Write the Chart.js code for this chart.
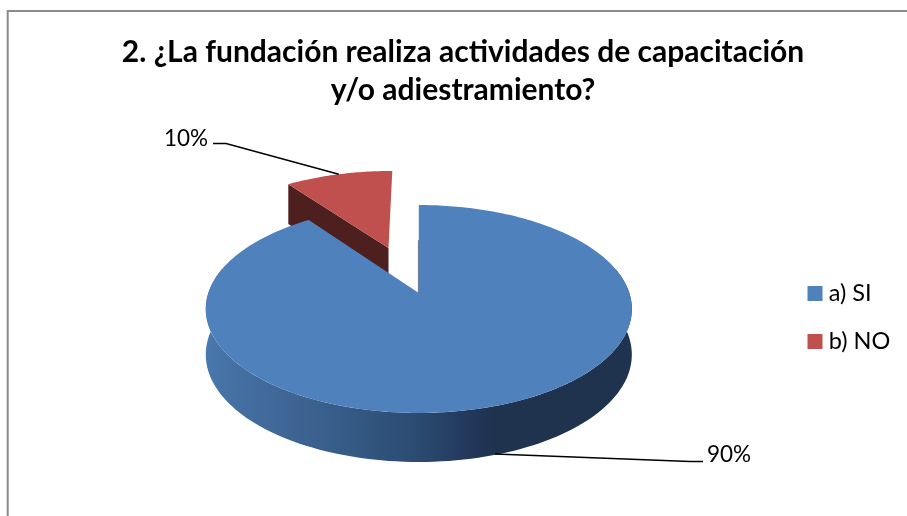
<!DOCTYPE html>
<html><head><meta charset="utf-8">
<style>html,body{margin:0;padding:0;background:#fff}canvas{display:block}</style>
<script src="https://cdn.jsdelivr.net/npm/chart.js@4"></script>
</head><body>
<canvas id="c" width="907" height="516"></canvas>
<script>
const categories = ['a) SI', 'b) NO'];
const values = [90, 10];
const colors = ['#4f81bd', '#c0504d'];
const titleLines = ['2. ¿La fundación realiza actividades de capacitación', 'y/o adiestramiento?'];
const explode = [0, 0.5];

// projection of the pie disc seen in perspective
const P = {cx: 418.8, cy: 293, R: 210.5, S: 101.5, p: 0.1538, dFront: 49, dBack: 41};
function proj(u, v, down) {
  const w = 1 + P.p * v;
  let y = P.cy - P.S * v / w;
  if (down) y += (P.dFront + P.dBack) / 2 - (P.dFront - P.dBack) / 2 * v;
  return [P.cx + P.R * u / w, y];
}
function offsetOf(arc, i) {
  const mid = (arc.startAngle + arc.endAngle) / 2;
  return [Math.cos(mid) * explode[i], -Math.sin(mid) * explode[i]];
}
function rim(a, off, down) { return proj(Math.cos(a) + off[0], -Math.sin(a) + off[1], down); }

const pie3d = {
  id: 'pie3d',
  beforeDraw(chart) {
    const ctx = chart.ctx;
    ctx.save();
    ctx.strokeStyle = '#8a8a8a';
    ctx.lineWidth = 2;
    ctx.beginPath();
    ctx.moveTo(907, 11);
    ctx.lineTo(7.7, 11);
    ctx.lineTo(7.7, 516);
    ctx.stroke();
    ctx.restore();
    const lg = chart.legend;
    const w = lg.right - lg.left, h = lg.bottom - lg.top;
    lg.left = 788.5; lg.right = lg.left + w; lg.top = 257.25; lg.bottom = lg.top + h;
  },
  beforeDatasetsDraw(chart) {
    const ctx = chart.ctx;
    const arcs = chart.getDatasetMeta(0).data;
    const total = values.reduce((a, b) => a + b, 0);
    ctx.save();
    ctx.lineJoin = 'round';

    // exploded slice b) NO
    const red = arcs[1], rOff = offsetOf(red, 1);
    const tip = proj(rOff[0], rOff[1]), tipD = proj(rOff[0], rOff[1], true);
    const s0 = rim(red.startAngle, rOff), s0D = rim(red.startAngle, rOff, true);
    ctx.fillStyle = '#4d1f1e';
    ctx.beginPath();
    ctx.moveTo(...s0); ctx.lineTo(...tip); ctx.lineTo(...tipD); ctx.lineTo(...s0D);
    ctx.closePath(); ctx.fill();
    ctx.fillStyle = colors[1];
    ctx.beginPath();
    ctx.moveTo(...tip);
    for (let i = 0; i <= 40; i++) {
      ctx.lineTo(...rim(red.startAngle + (red.endAngle - red.startAngle) * i / 40, rOff));
    }
    ctx.closePath(); ctx.fill();

    // main slice a) SI
    const blue = arcs[0], bOff = offsetOf(blue, 0);
    const g = ctx.createLinearGradient(207, 0, 632, 0);
    g.addColorStop(0, '#4a79ae');
    g.addColorStop(0.04, '#4672a6');
    g.addColorStop(0.195, '#3f6595');
    g.addColorStop(0.336, '#345a85');
    g.addColorStop(0.50, '#2b4a70');
    g.addColorStop(0.62, '#22375a');
    g.addColorStop(0.68, '#1f334e');
    g.addColorStop(1, '#1f334e');
    ctx.fillStyle = g;
    ctx.beginPath();
    const n = 120, a0 = -0.25, a1 = Math.PI + 0.25;
    for (let i = 0; i <= n; i++) {
      const p = rim(a0 + (a1 - a0) * i / n, bOff);
      i ? ctx.lineTo(...p) : ctx.moveTo(...p);
    }
    for (let i = n; i >= 0; i--) ctx.lineTo(...rim(a0 + (a1 - a0) * i / n, bOff, true));
    ctx.closePath(); ctx.fill();

    ctx.fillStyle = colors[0];
    ctx.beginPath();
    ctx.moveTo(...proj(bOff[0], bOff[1]));
    const m = 300;
    for (let i = 0; i <= m; i++) {
      ctx.lineTo(...rim(blue.startAngle + (blue.endAngle - blue.startAngle) * i / m, bOff));
    }
    ctx.closePath(); ctx.fill();

    // thin visible sliver of the cut face
    const c = proj(bOff[0], bOff[1]), top = rim(blue.startAngle, bOff);
    ctx.strokeStyle = 'rgba(31,51,78,0.8)';
    ctx.lineWidth = 0.8;
    ctx.beginPath();
    ctx.moveTo(c[0] - 0.4, c[1]);
    ctx.lineTo(top[0] - 0.4, c[1] - (c[1] - top[1]) * 0.6);
    ctx.stroke();

    // leader lines and percentage labels
    const mid0 = (blue.startAngle + blue.endAngle) / 2;
    const mid1 = (red.startAngle + red.endAngle) / 2;
    const a = rim(mid0, bOff, true), b = rim(mid1, rOff);
    ctx.strokeStyle = '#000';
    ctx.lineWidth = 1.5;
    ctx.lineJoin = 'miter';
    ctx.beginPath();
    ctx.moveTo(a[0], a[1] - 1); ctx.lineTo(690, 461.5); ctx.lineTo(703, 461.5);
    ctx.moveTo(b[0], b[1]); ctx.lineTo(226, 143.5); ctx.lineTo(213, 143.5);
    ctx.stroke();
    ctx.fillStyle = '#000';
    ctx.font = '400 22.5px Lato';
    ctx.textBaseline = 'alphabetic';
    ctx.textAlign = 'left';
    ctx.fillText(Math.round(values[0] / total * 100) + '%', 707, 462);
    ctx.fillText(Math.round(values[1] / total * 100) + '%', 164, 146);
    ctx.restore();
    return false;
  }
};

new Chart(document.getElementById('c'), {
  type: 'pie',
  data: {
    labels: categories,
    datasets: [{data: values, backgroundColor: colors, borderWidth: 0}]
  },
  options: {
    responsive: false,
    animation: false,
    layout: {padding: {left: 19, top: 33, right: 0, bottom: 0}},
    plugins: {
      title: {
        display: true,
        text: titleLines,
        color: '#000',
        font: {family: 'Lato', size: 30, weight: 'bold', lineHeight: 1.267},
        padding: {top: 0, bottom: 0}
      },
      legend: {
        position: 'right',
        align: 'start',
        labels: {
          color: '#000',
          font: {family: 'Lato', size: 23.5},
          boxWidth: 4,
          boxHeight: 4,
          padding: 24.5,
          generateLabels(chart) {
            return Chart.overrides.pie.plugins.legend.labels.generateLabels(chart).map(l => ({
              ...l, lineWidth: 11, strokeStyle: l.fillStyle, fontColor: '#000'
            }));
          }
        }
      },
      tooltip: {enabled: false}
    }
  },
  plugins: [pie3d]
});
</script>
</body></html>
